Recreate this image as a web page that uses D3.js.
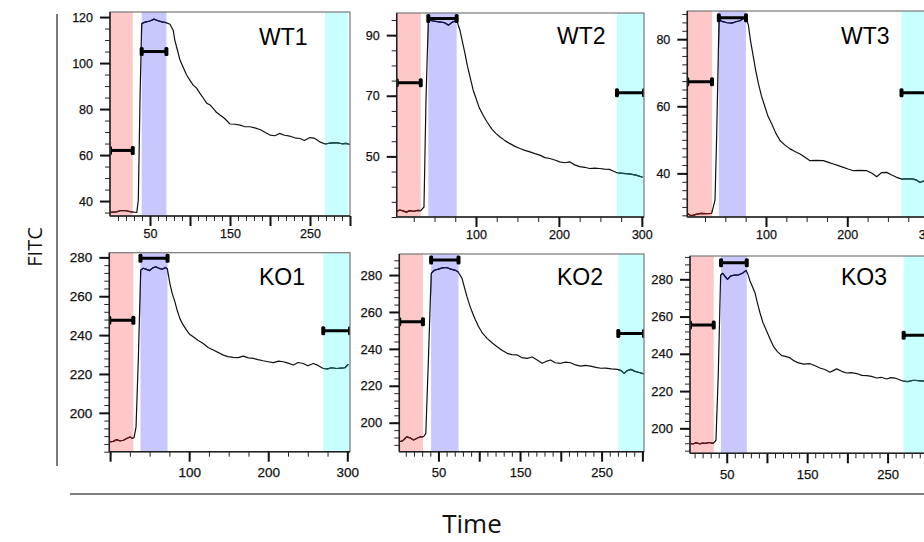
<!DOCTYPE html>
<html><head><meta charset="utf-8">
<script src="https://cdn.jsdelivr.net/npm/d3@7"></script>
<style>body{margin:0;background:#fff}svg{display:block}</style>
</head><body>
<svg id="chart" width="924" height="542"></svg>
<script>
// ---------------- DATA ----------------
const panelNames = ["WT1", "WT2", "WT3", "KO1", "KO2", "KO3"];

const wt1Trace = [[0,35.1],[8,35.3],[14,35.9],[20,35.8],[25,35.4],[30,35.2],[33.5,35.1],[35.4,40.4],[37.5,84],[39.6,117.2],[44,117.8],[50,118.3],[55,119.1],[60,118.4],[65,117.9],[70,117.6],[75,116.9],[79,114.3],[81,110],[84,106],[87.5,101.3],[91,98.5],[95.8,94.8],[100,92.5],[104,90.4],[108,89.2],[112.5,86.8],[117,84.6],[121,82.5],[125,81.8],[129,80.3],[133,78.6],[137.5,77.4],[143,76],[150,73.5],[156,73.4],[162.5,73],[168,72.4],[175,72.3],[181,71.8],[187.5,71.1],[194,69.8],[200,68.7],[206,68.4],[212,69.4],[218,68.6],[225,68.2],[231,67.5],[237.5,67.2],[243,66.3],[250,67.6],[255,67.4],[258,66.8],[263,65.6],[268.75,64.8],[275,65.2],[283,65.4],[290,64.9],[295,65.1],[300,64.6]];
const wt2Trace = [[4.4,31.8],[8,32.3],[12,32.0],[16,31.6],[20,32.1],[25,31.9],[30,32.2],[33.4,32.1],[37.3,33.3],[39.7,68.5],[42.5,95],[48,94.7],[55,94.4],[62,94.1],[67,93.3],[72,94.4],[77,94.7],[80.7,91.6],[83.5,88],[86.7,84],[89.5,80],[92.8,76.2],[96.5,72],[100.8,68.5],[104,66],[108.8,63.5],[113,61.5],[118.9,59.1],[124,57.6],[129,56.4],[135,55.2],[141,54.2],[147,53.3],[153,52.6],[159,52],[165,51.5],[171,50.9],[177,50.4],[183,49.6],[189,49.3],[195,48.8],[201,48.2],[207,47.9],[213,48.2],[219,47.2],[225,46.6],[231,46.4],[237,46],[243,46.1],[249,46],[255,45.8],[261,45.7],[266,45.1],[270,44.6],[277,44.4],[285,44.2],[293,43.8],[301,43.1]];
const wt3Trace = [[3.2,28.1],[6,27.6],[9,27.4],[14,27.8],[20,28.1],[26,28.0],[33.2,28.1],[37.3,32],[39.4,52],[42.2,85.8],[46,85.3],[52,84.9],[58,84.8],[63,85.2],[68,85.5],[73,86.3],[75.5,86],[78.3,84.3],[81,79.5],[84.4,74.8],[87.5,70.5],[90.6,66.8],[94.5,63],[98.8,59.8],[102.5,57],[107,54.8],[112,52],[117.3,49.8],[123,48.5],[129.6,47.3],[135,46.6],[141.9,45.8],[148,44.8],[154.2,43.8],[162,43.9],[170.6,43.8],[177,43.3],[182.9,42.8],[189,42.3],[195.2,41.8],[201,41.3],[207.5,40.8],[215,40.9],[223.9,40.8],[230,40.1],[236.2,39],[242,40.2],[248.5,40.3],[254,39.6],[260,38.9],[267,38.3],[274,38.4],[281.3,38.3],[285,38.0],[289.5,37.3],[294.5,37.8],[300,37.5],[303,37.4]];
const ko1Trace = [[-1,185],[4,185.3],[8.4,186.2],[12,185.6],[16.8,185.9],[21,186.8],[25.2,187.6],[28,186.9],[30.3,187.2],[32.8,192.7],[35.8,228.8],[38.7,273.5],[42,274.4],[46,273.8],[50,273.2],[54,274.6],[58,275.2],[62,274.3],[66,273.9],[70,274.8],[72.5,274],[75.6,266.6],[78.5,261.5],[81.9,257.2],[85,252.5],[88.2,248.6],[92,245.5],[96.7,242.6],[101,240.3],[105.1,239.1],[111,237.3],[117.8,235.7],[124,233.6],[130.5,232.3],[137,231],[143.1,229.7],[149,228.9],[155.7,228.5],[162,228.4],[168.4,229.2],[175,228.3],[181,228],[187,227.4],[193.7,226.8],[200,226.3],[206.3,225.8],[213,226.6],[219,226.3],[225,225.6],[231.6,224.6],[238,225.9],[244.3,225.4],[250,224.2],[257,225.4],[263,224.4],[269.6,222.8],[275,222.6],[280,223.2],[286.5,222.8],[292,223],[297,223.2],[301.3,225]];
const ko2Trace = [[2,189.7],[6,190.2],[11.2,192.4],[15,191.8],[19.4,190.6],[22,191.2],[25.5,192],[28,192.3],[31.7,192.4],[34.5,194.2],[37.8,235.7],[41.1,280.9],[45,282.6],[50,283.2],[55,283.9],[60,284.1],[65,283.2],[70,282.7],[74,281.8],[78.8,278.3],[82,273],[85,268.3],[88,264],[91.1,260.2],[95,256],[99.3,252],[104,248.5],[109.6,245.7],[116,243.2],[121.9,241.2],[128,239.3],[134.2,237.6],[140,236.9],[146.5,236.7],[152,235.3],[158.8,234.9],[165,235.6],[171,234],[177.2,232.2],[182,233.2],[187.5,234],[193,232.5],[199.8,232.2],[206,232.8],[212,232.5],[218,231.3],[224.4,230.7],[230,231.1],[236.7,230.7],[243,230],[249,229.5],[255,229.6],[262,229.2],[269.5,228.9],[274,228.2],[277.7,226.7],[281,228.1],[285.9,228.9],[291,227.8],[296,227.2],[302,226.4]];
const ko3Trace = [[4.3,191.9],[8,191.6],[12,192.3],[16,191.7],[20,192.1],[24,191.9],[28,192.4],[33.3,191.9],[36.6,193.6],[39.5,229.5],[42.4,282.3],[45,283.2],[48,281.5],[51,280],[55,281.8],[60,282.2],[65,282.4],[70,283.4],[74,284.8],[76.5,282.5],[79,278.9],[82,276],[85.2,272.6],[88,267.5],[91.4,261.9],[95,256.8],[99.7,252.1],[104,247.8],[108,244],[113,241.2],[118.3,239],[123,238.6],[128.7,237.8],[134,236.2],[139,235.1],[146,234.5],[153.5,234.7],[160,233.6],[165.9,232.4],[172,231.6],[178.4,230.1],[183,231.1],[186.7,231.9],[193,230.6],[199.2,229.7],[205,229.9],[211.6,229.4],[218,228.4],[224,228.3],[230,227.9],[236.5,227],[242,227.4],[248.9,226.5],[254,227.2],[259.3,227],[264,226.2],[269.6,225.3],[275,225.1],[282,225.8],[288,225.6],[295.3,225.3],[304,225.1]];
const traces = [wt1Trace, wt2Trace, wt3Trace, ko1Trace, ko2Trace, ko3Trace];

// gate windows (time) : baseline (red), peak (blue), end (cyan)
const redWindow  = [[0,28.4],[4.4,33.4],[3.2,33.6],[-1,29.4],[2,31],[4.3,33.8]];
const blueWindow = [[39.6,70.5],[42.5,76.7],[42,75.4],[38.4,72.7],[41,74.6],[42.9,74.9]];
const cyanWindow = [[268.75,297.5],[270,302.6],[266.7,303],[269.6,303.4],[270.5,302],[270,304]];

// mean markers (FITC) for each window
const redMean  = [62, 74.3, 67.3, 247.7, 254.7, 255.5];
const blueMean = [105, 95.5, 86.4, 279.5, 288.1, 288.9];
const cyanMean = [null, 71, 64, 242.2, 248.4, 250];

// tick labels
const xTickLabels = [[50,150,250],[100,200,300],[100,200,300],[100,200,300],[50,150,250],[50,150,250]];
const yTickLabels = [[40,60,80,100,120],[50,70,90],[40,60,80],[200,220,240,260,280],[200,220,240,260,280],[200,220,240,260,280]];

const xTitle = "Time";
const yTitle = "FITC";

// ---------------- LAYOUT ----------------
const layout = [
  {left:110,  right:350, top:12,    bottom:216,   xDomain:[0,300],     yDomain:[33.5,122.2], xMajor:50,  xMinor:10, yMinor:5,   font:12.5, pad:3, labelX:259, labelY:45},
  {left:396.7,right:644, top:13,    bottom:217,   xDomain:[4.4,302.6], yDomain:[30,97.3],    xMajor:100, xMinor:25, yMinor:5,   font:12.5, pad:3, labelX:557, labelY:44},
  {left:687.3,right:931, top:11,    bottom:217,   xDomain:[3.2,303],   yDomain:[27,88.4],    xMajor:100, xMinor:25, yMinor:2.5, font:12.5, pad:3, labelX:841, labelY:44},
  {left:109.3,right:350, top:252.7, bottom:451.7, xDomain:[-1,303.4],  yDomain:[180,282.4],  xMajor:100, xMinor:25, yMinor:4,   font:13.5, pad:6, labelX:259, labelY:285},
  {left:399.3,right:644, top:254,   bottom:451.7, xDomain:[2,302],     yDomain:[184.3,291.4],xMajor:50,  xMinor:10, yMinor:4,   font:13,   pad:6, labelX:557, labelY:285},
  {left:690,  right:931, top:256,   bottom:453.3, xDomain:[4.3,304],   yDomain:[186.6,292.5],xMajor:50,  xMinor:10, yMinor:4,   font:13,   pad:6, labelX:841, labelY:285}
];

const svg = d3.select("#chart");
const defs = svg.append("defs");

function stepValues(domain, step) {
  const out = [];
  const start = Math.ceil((domain[0] - 1e-9) / step) * step;
  for (let v = start; v <= domain[1] + 1e-9; v += step) out.push(+v.toFixed(4));
  return out;
}

panelNames.forEach((name, i) => {
  const L = layout[i];
  const x = d3.scaleLinear().domain(L.xDomain).range([L.left, L.right]);
  const y = d3.scaleLinear().domain(L.yDomain).range([L.bottom, L.top]);
  const g = svg.append("g").attr("class", "panel");

  const clipId = "clip" + i;
  defs.append("clipPath").attr("id", clipId).append("rect")
    .attr("x", L.left).attr("y", L.top).attr("width", L.right - L.left).attr("height", L.bottom - L.top);

  const inner = g.append("g").attr("clip-path", `url(#${clipId})`);

  const regions = [
    {w: redWindow[i],  fill: "#ffc8c8", tint: "#6a1010"},
    {w: blueWindow[i], fill: "#c8c8ff", tint: "#10105a"},
    {w: cyanWindow[i], fill: "#c8ffff", tint: "#105050"}
  ];
  regions.forEach(r => {
    inner.append("rect")
      .attr("x", x(r.w[0])).attr("y", L.top)
      .attr("width", x(r.w[1]) - x(r.w[0])).attr("height", L.bottom - L.top)
      .attr("fill", r.fill);
  });

  const line = d3.line().x(d => x(d[0])).y(d => y(d[1]));
  inner.append("path").datum(traces[i]).attr("d", line)
    .attr("fill", "none").attr("stroke", "#111").attr("stroke-width", 1.2).attr("stroke-linejoin", "round");

  // tinted trace inside gates
  regions.forEach((r, k) => {
    const cid = `clip${i}_${k}`;
    defs.append("clipPath").attr("id", cid).append("rect")
      .attr("x", x(r.w[0])).attr("y", L.top)
      .attr("width", x(r.w[1]) - x(r.w[0])).attr("height", L.bottom - L.top);
    inner.append("g").attr("clip-path", `url(#${cid})`)
      .append("path").datum(traces[i]).attr("d", line)
      .attr("fill", "none").attr("stroke", r.tint).attr("stroke-width", 1.2).attr("stroke-linejoin", "round");
  });

  // mean markers
  const means = [redMean[i], blueMean[i], cyanMean[i]];
  means.forEach((m, k) => {
    if (m == null) return;
    const w = regions[k].w;
    const x0 = Math.max(x(w[0]), L.left), x1 = Math.min(x(w[1]), L.right);
    const yy = y(m);
    inner.append("line").attr("x1", x0).attr("x2", x1).attr("y1", yy).attr("y2", yy)
      .attr("stroke", "#000").attr("stroke-width", 3);
    [x0, x1].forEach(xx => {
      inner.append("rect").attr("x", xx - 2).attr("y", yy - 4.5).attr("width", 4).attr("height", 9)
        .attr("rx", 1.5).attr("fill", "#000");
    });
  });

  // frame
  g.append("rect").attr("x", L.left).attr("y", L.top)
    .attr("width", L.right - L.left).attr("height", L.bottom - L.top)
    .attr("fill", "none").attr("stroke", "#777").attr("stroke-width", 1.2);
  g.append("line").attr("x1", L.left).attr("x2", L.left).attr("y1", L.top).attr("y2", L.bottom)
    .attr("stroke", "#222").attr("stroke-width", 1.5);
  g.append("line").attr("x1", L.left).attr("x2", L.right).attr("y1", L.bottom).attr("y2", L.bottom)
    .attr("stroke", "#222").attr("stroke-width", 1.5);

  // axes
  const xMinorVals = stepValues(L.xDomain, L.xMinor).filter(v => v > L.xDomain[0]);
  const xMajorVals = stepValues(L.xDomain, L.xMajor).filter(v => v > L.xDomain[0]);
  const yMinorVals = stepValues(L.yDomain, L.yMinor);
  const yMajorVals = yTickLabels[i];
  const fontFam = "'Liberation Sans', Arial, sans-serif";

  const ax1 = g.append("g").attr("transform", `translate(0,${L.bottom})`)
    .call(d3.axisBottom(x).tickValues(xMinorVals).tickSize(5).tickFormat(""));
  const ax2 = g.append("g").attr("transform", `translate(0,${L.bottom})`)
    .call(d3.axisBottom(x).tickValues(xMajorVals).tickSize(10).tickPadding(L.pad)
      .tickFormat(d => xTickLabels[i].includes(d) ? String(d) : ""));
  const ay1 = g.append("g").attr("transform", `translate(${L.left},0)`)
    .call(d3.axisLeft(y).tickValues(yMinorVals).tickSize(5).tickFormat(""));
  const ay2 = g.append("g").attr("transform", `translate(${L.left},0)`)
    .call(d3.axisLeft(y).tickValues(yMajorVals).tickSize(10).tickPadding(7).tickFormat(d => String(d)));

  [ax1, ax2, ay1, ay2].forEach(a => {
    a.select(".domain").remove();
    a.selectAll("text").attr("font-family", fontFam).attr("font-size", L.font)
      .attr("fill", "#111").attr("stroke", "#111").attr("stroke-width", 0.25);
  });
  [ax1, ay1].forEach(a => a.selectAll("line").attr("stroke", "#222").attr("stroke-width", 1));
  [ax2, ay2].forEach(a => a.selectAll("line").attr("stroke", "#111").attr("stroke-width", 2));

  // panel name
  g.append("text").attr("x", L.labelX).attr("y", L.labelY)
    .attr("font-family", fontFam).attr("font-size", 23).attr("fill", "#000").text(name);
});

// outer frame lines
svg.append("line").attr("x1", 57).attr("x2", 57).attr("y1", 14).attr("y2", 466)
  .attr("stroke", "#333").attr("stroke-width", 1.3);
svg.append("line").attr("x1", 70).attr("x2", 924).attr("y1", 494).attr("y2", 494)
  .attr("stroke", "#555").attr("stroke-width", 1.6);

svg.append("text").attr("x", 472).attr("y", 533).attr("text-anchor", "middle")
  .attr("font-family", "'Open Sans', 'DejaVu Sans', sans-serif").attr("font-size", 26).attr("fill", "#111").text(xTitle);
svg.append("text").attr("transform", "translate(42,247) rotate(-90)").attr("text-anchor", "middle")
  .attr("font-family", "'Open Sans', 'DejaVu Sans', sans-serif").attr("font-size", 20).attr("fill", "#111").text(yTitle);
</script>
</body></html>
